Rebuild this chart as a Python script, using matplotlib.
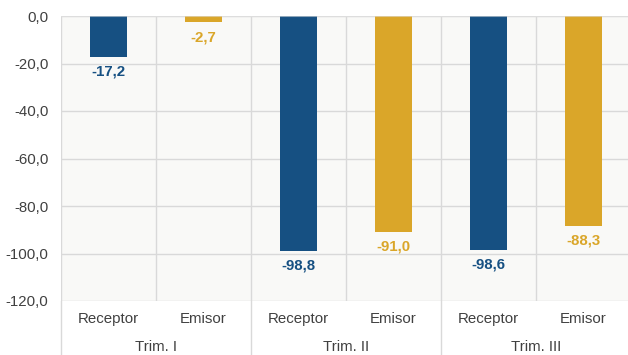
import matplotlib
matplotlib.use("Agg")
import matplotlib.pyplot as plt
from matplotlib.lines import Line2D

plt.rcParams['font.family'] = ['Liberation Sans', 'DejaVu Sans']

groups = ["Trim. I", "Trim. II", "Trim. III"]
series = ["Receptor", "Emisor"]
receptor = [-17.2, -98.8, -98.6]
emisor = [-2.7, -91.0, -88.3]
y_ticks = [0, -20, -40, -60, -80, -100, -120]

blue = "#165082"
gold = "#DAA629"
grid = "#D9D9D9"
text_col = "#404040"

W, H = 628, 355
fig = plt.figure(figsize=(W / 100, H / 100), dpi=100)
left, right, top, bottom = 61, 631, 16, 301
ax = fig.add_axes([left / W, (H - bottom) / H, (right - left) / W, (bottom - top) / H])
ax.set_facecolor("#F9F9F7")

n_cat = len(groups) * len(series)
values = []
colors = []
for r, e in zip(receptor, emisor):
    values += [r, e]
    colors += [blue, gold]
xs = list(range(n_cat))

bars = ax.bar(xs, values, width=0.39, color=colors, zorder=2)
for x, v, c in zip(xs, values, colors):
    ax.annotate(f"{v:.1f}".replace(".", ","), (x, v), xytext=(0, -5.5),
                textcoords="offset points", ha="center", va="top",
                fontsize=10.8, fontweight="bold", color=c, zorder=3)

ax.set_xlim(-0.5, n_cat - 0.5)
ax.set_ylim(-120, 0)
ax.set_yticks(y_ticks)
ax.set_yticklabels([f"{t:.1f}".replace(".", ",") for t in y_ticks])
ax.tick_params(axis="y", length=0, pad=9, labelsize=10.8, labelcolor=text_col)
ax.set_xticks([])
for s in ax.spines.values():
    s.set_visible(False)

# grid: horizontal per tick, vertical between categories
for t in y_ticks:
    ax.axhline(t, color=grid, lw=1.0, zorder=1)
ax.axhline(0, color="#E0E0E0", lw=1.5, alpha=0.6, zorder=4)
for k in range(n_cat + 1):
    ax.axvline(k - 0.5, color=grid, lw=1.0, zorder=1)

# two-level category axis below the plot
trans = ax.get_xaxis_transform()
for x in xs:
    ax.text(x, -18 / (bottom - top), series[x % 2], transform=trans,
            ha="center", va="center", fontsize=10.8, color=text_col)
for g, name in enumerate(groups):
    ax.text(2 * g + 0.5, -46 / (bottom - top), name, transform=trans,
            ha="center", va="center", fontsize=10.8, color=text_col)
for g in range(len(groups) + 1):
    ax.add_line(Line2D([2 * g - 0.5, 2 * g - 0.5], [0, -(H - bottom) / (bottom - top)],
                       transform=trans, color=grid, lw=1.0, clip_on=False))

fig.savefig("out.png", dpi=100, facecolor="white")
